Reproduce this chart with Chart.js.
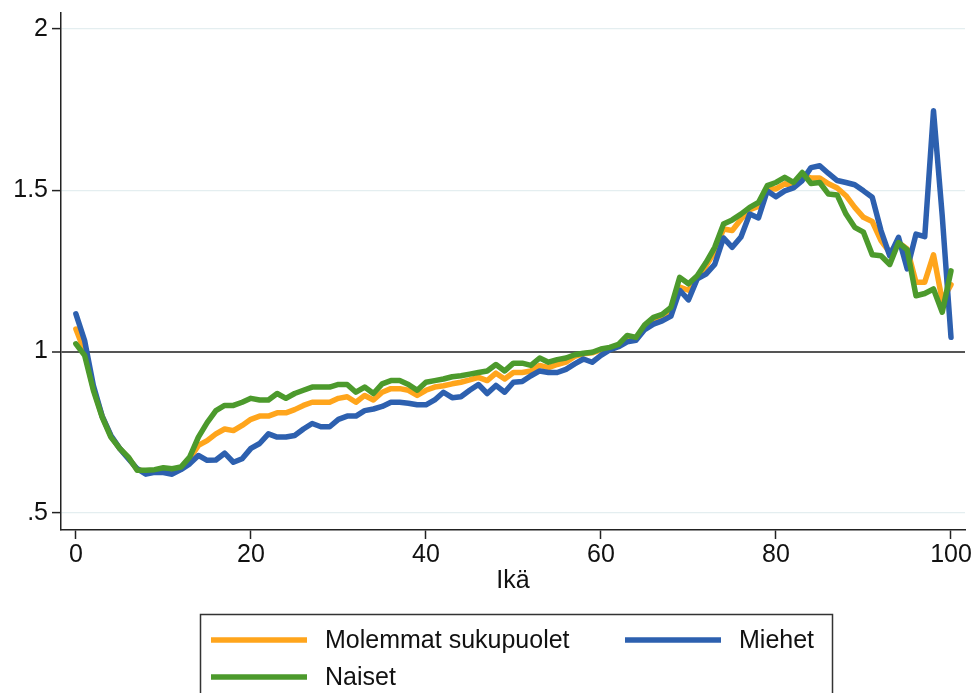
<!DOCTYPE html>
<html>
<head>
<meta charset="utf-8">
<script src="https://cdn.jsdelivr.net/npm/chart.js@4.4.1/dist/chart.umd.min.js"></script>
<style>
  body { margin: 0; background: #fff; }
  #wrap { width: 976px; height: 693px; }
</style>
</head>
<body>
<div id="wrap"><canvas id="ageChart" width="976" height="693"></canvas></div>
<script>
const ages = [0,1,2,3,4,5,6,7,8,9,10,11,12,13,14,15,16,17,18,19,20,21,22,23,24,25,26,27,28,29,30,
  31,32,33,34,35,36,37,38,39,40,41,42,43,44,45,46,47,48,49,50,51,52,53,54,55,56,57,58,59,60,
  61,62,63,64,65,66,67,68,69,70,71,72,73,74,75,76,77,78,79,80,81,82,83,84,85,86,87,88,89,90,
  91,92,93,94,95,96,97,98,99,100];

const molemmat = [1.07,1.00,0.885,0.80,0.738,0.70,0.67,0.635,0.628,0.63,
  0.632,0.63,0.638,0.668,0.709,0.724,0.745,0.76,0.755,0.771,
  0.79,0.80,0.80,0.81,0.81,0.82,0.833,0.843,0.843,0.843,
  0.855,0.86,0.843,0.864,0.85,0.874,0.885,0.885,0.88,0.864,
  0.88,0.89,0.894,0.90,0.905,0.912,0.92,0.91,0.933,0.915,
  0.935,0.935,0.94,0.957,0.95,0.96,0.967,0.985,0.993,0.996,
  1.005,1.01,1.02,1.04,1.04,1.075,1.095,1.105,1.13,1.20,
  1.19,1.225,1.265,1.31,1.38,1.375,1.41,1.44,1.45,1.505,
  1.504,1.52,1.514,1.545,1.538,1.538,1.52,1.507,1.483,1.447,
  1.416,1.403,1.344,1.307,1.338,1.318,1.215,1.215,1.30,1.158,
  1.207];

const miehet = [1.117,1.034,0.895,0.80,0.74,0.70,0.668,0.637,0.62,0.626,
  0.625,0.62,0.634,0.652,0.678,0.663,0.664,0.685,0.657,0.668,
  0.70,0.715,0.745,0.735,0.735,0.74,0.76,0.777,0.767,0.767,
  0.79,0.80,0.80,0.817,0.822,0.83,0.843,0.843,0.84,0.835,
  0.835,0.85,0.874,0.857,0.86,0.88,0.898,0.87,0.895,0.874,
  0.905,0.907,0.925,0.94,0.935,0.935,0.945,0.962,0.977,0.967,
  0.988,1.005,1.015,1.03,1.035,1.068,1.085,1.095,1.11,1.19,
  1.16,1.225,1.24,1.27,1.352,1.323,1.355,1.426,1.414,1.498,
  1.48,1.498,1.507,1.53,1.57,1.576,1.552,1.53,1.524,1.517,
  1.498,1.478,1.375,1.297,1.354,1.256,1.364,1.356,1.746,1.42,
  1.044];

const naiset = [1.024,0.988,0.88,0.797,0.735,0.70,0.673,0.632,0.632,0.634,
  0.64,0.637,0.642,0.673,0.735,0.78,0.817,0.833,0.833,0.843,
  0.855,0.85,0.85,0.87,0.855,0.87,0.88,0.89,0.89,0.89,
  0.898,0.898,0.874,0.89,0.87,0.90,0.91,0.91,0.898,0.88,
  0.905,0.91,0.915,0.922,0.925,0.93,0.935,0.94,0.96,0.94,
  0.964,0.964,0.957,0.98,0.967,0.975,0.98,0.99,0.995,0.998,
  1.008,1.013,1.022,1.05,1.044,1.083,1.106,1.115,1.137,1.23,
  1.21,1.235,1.276,1.323,1.395,1.408,1.426,1.447,1.462,1.514,
  1.524,1.54,1.524,1.555,1.521,1.524,1.488,1.485,1.426,1.385,
  1.37,1.30,1.297,1.27,1.338,1.315,1.173,1.18,1.194,1.122,
  1.25];

const xTicks = [0, 20, 40, 60, 80, 100];
const yTicks = [0.5, 1, 1.5, 2];
const yTickLabels = ['.5', '1', '1.5', '2'];

const FONT = '"Liberation Sans", Arial, Helvetica, sans-serif';
const toPoints = arr => ages.map((a, i) => ({ x: a, y: arr[i] }));

// legend drawn as a box below the plot, like the original
const boxLegend = {
  id: 'boxLegend',
  afterDraw(chart) {
    const ctx = chart.ctx;
    const ds = chart.data.datasets;
    ctx.save();
    ctx.strokeStyle = '#333';
    ctx.lineWidth = 1.5;
    ctx.strokeRect(200.5, 614.5, 632, 120);
    const slots = [
      { i: 0, x: 211, y: 640 },
      { i: 1, x: 625, y: 640 },
      { i: 2, x: 211, y: 677 }
    ];
    ctx.font = '25px ' + FONT;
    ctx.textBaseline = 'middle';
    ctx.fillStyle = '#111';
    slots.forEach(s => {
      ctx.strokeStyle = ds[s.i].borderColor;
      ctx.lineWidth = 5.5;
      ctx.beginPath();
      ctx.moveTo(s.x, s.y);
      ctx.lineTo(s.x + 96, s.y);
      ctx.stroke();
      ctx.fillText(ds[s.i].label, s.x + 114, s.y + 1);
    });
    ctx.restore();
  }
};

const chart = new Chart(document.getElementById('ageChart'), {
  type: 'line',
  data: {
    datasets: [
      { label: 'Molemmat sukupuolet', data: toPoints(molemmat), borderColor: '#FFA51C', order: 2 },
      { label: 'Miehet', data: toPoints(miehet), borderColor: '#2D60AF', order: 1 },
      { label: 'Naiset', data: toPoints(naiset), borderColor: '#4C9A2C', order: 0 }
    ]
  },
  options: {
    responsive: false,
    animation: false,
    devicePixelRatio: 1,
    layout: { padding: { left: 0, right: 11, top: 12, bottom: 28 } },
    elements: {
      point: { radius: 0 },
      line: { borderWidth: 5.5, tension: 0, fill: false, borderJoinStyle: 'round', borderCapStyle: 'round' }
    },
    plugins: { legend: { display: false }, tooltip: { enabled: false } },
    scales: {
      x: {
        type: 'linear',
        min: -1.7,
        max: 101.6,
        afterBuildTicks: s => { s.ticks = xTicks.map(v => ({ value: v })); },
        afterFit: s => { s.height = 135; },
        border: { color: '#222', width: 1.5 },
        grid: { drawOnChartArea: false, drawTicks: true, tickLength: 9, tickColor: '#222', tickWidth: 1.5 },
        ticks: { color: '#111', font: { family: FONT, size: 25 }, padding: 1, maxRotation: 0 },
        title: { display: true, text: 'Ikä', color: '#111', font: { family: FONT, size: 25 }, padding: { top: 0, bottom: 69 } }
      },
      y: {
        min: 0.447,
        max: 2.05,
        afterBuildTicks: s => { s.ticks = yTicks.map(v => ({ value: v })); },
        afterFit: s => { s.width = 61; },
        border: { color: '#222', width: 1.5 },
        grid: {
          color: c => (c.tick && c.tick.value === 1) ? '#555' : '#e4eef0',
          lineWidth: c => (c.tick && c.tick.value === 1) ? 2 : 1.2,
          tickLength: 9,
          tickColor: '#222',
          tickWidth: 1.5
        },
        ticks: {
          color: '#111',
          font: { family: FONT, size: 25, lineHeight: 0.7 },
          padding: 4,
          callback: (v) => yTickLabels[yTicks.indexOf(v)]
        }
      }
    }
  },
  plugins: [boxLegend]
});
</script>
</body>
</html>
